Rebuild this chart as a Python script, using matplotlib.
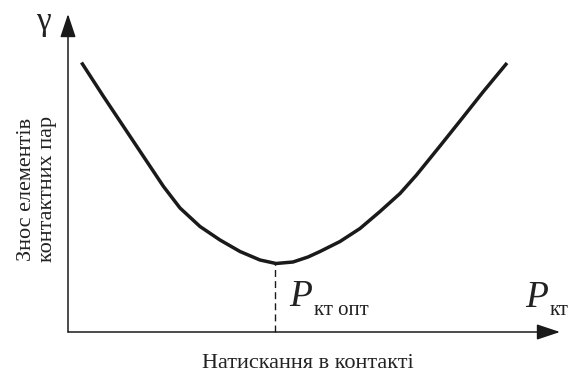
import matplotlib
matplotlib.use('Agg')
import matplotlib.pyplot as plt

# крива зносу (умовні одиниці)
p_vals = [0.27, 0.71, 1.11, 1.51, 1.91, 2.24, 2.64, 3.04, 3.44, 3.84, 4.16, 4.50,
          4.80, 5.04, 5.44, 5.84, 6.24, 6.64, 6.97, 7.44, 7.84, 8.30, 8.78]
wear = [5.39, 4.71, 4.11, 3.51, 2.91, 2.48, 2.11, 1.84, 1.61, 1.44, 1.37, 1.40,
        1.50, 1.61, 1.81, 2.07, 2.41, 2.77, 3.14, 3.72, 4.22, 4.80, 5.38]
p_opt = 4.14
x_end = 9.84
y_end = 6.36

ylabel_text = 'Знос елементів\nконтактних пар'
xlabel_text = 'Натискання в контакті'

plt.rcParams['font.family'] = ['Liberation Serif', 'DejaVu Serif']

fig = plt.figure(figsize=(5.71, 3.74), dpi=100)
ax = fig.add_axes([0, 0, 1, 1])
ax.set_xlim(-68 / 50, (571 - 68) / 50)
ax.set_ylim((332 - 374) / 50, 332 / 50)
ax.axis('off')

# осі зі стрілками
arr = dict(arrowstyle='-|>,head_length=0.9,head_width=0.3', color='#1a1a1a',
           lw=1.1, shrinkA=0, shrinkB=0, mutation_scale=16)
ax.annotate('', xy=(x_end, 0), xytext=(0, 0), arrowprops=arr)
ax.annotate('', xy=(0, y_end), xytext=(0, 0), arrowprops=arr)

# крива
ax.plot(p_vals, wear, color='#1a1a1a', lw=2.5, solid_capstyle='butt',
        solid_joinstyle='round')

# оптимум
y_min = min(wear)
ax.plot([p_opt, p_opt], [0, y_min], color='#1a1a1a', lw=1.0, ls=(0, (5, 3)))

# підписи
ax.text(-0.5, 6.2, 'γ', fontsize=24, ha='center', va='center', color='#222222')
ax.text(-0.62, 2.86, ylabel_text, rotation=90, fontsize=16, ha='center', va='center',
        multialignment='center', linespacing=1.2, color='#222222')
ax.text(4.8, -0.62, xlabel_text, fontsize=16, ha='center', va='center', color='#222222')

ax.text(4.42, 0.52, 'P', fontsize=27, style='italic', ha='left', va='baseline', color='#222222')
ax.text(4.92, 0.34, 'кт опт', fontsize=15, ha='left', va='baseline', color='#222222')
ax.text(9.14, 0.5, 'P', fontsize=27, style='italic', ha='left', va='baseline', color='#222222')
ax.text(9.64, 0.34, 'кт', fontsize=15, ha='left', va='baseline', color='#222222')

fig.savefig('out.png', dpi=100)
